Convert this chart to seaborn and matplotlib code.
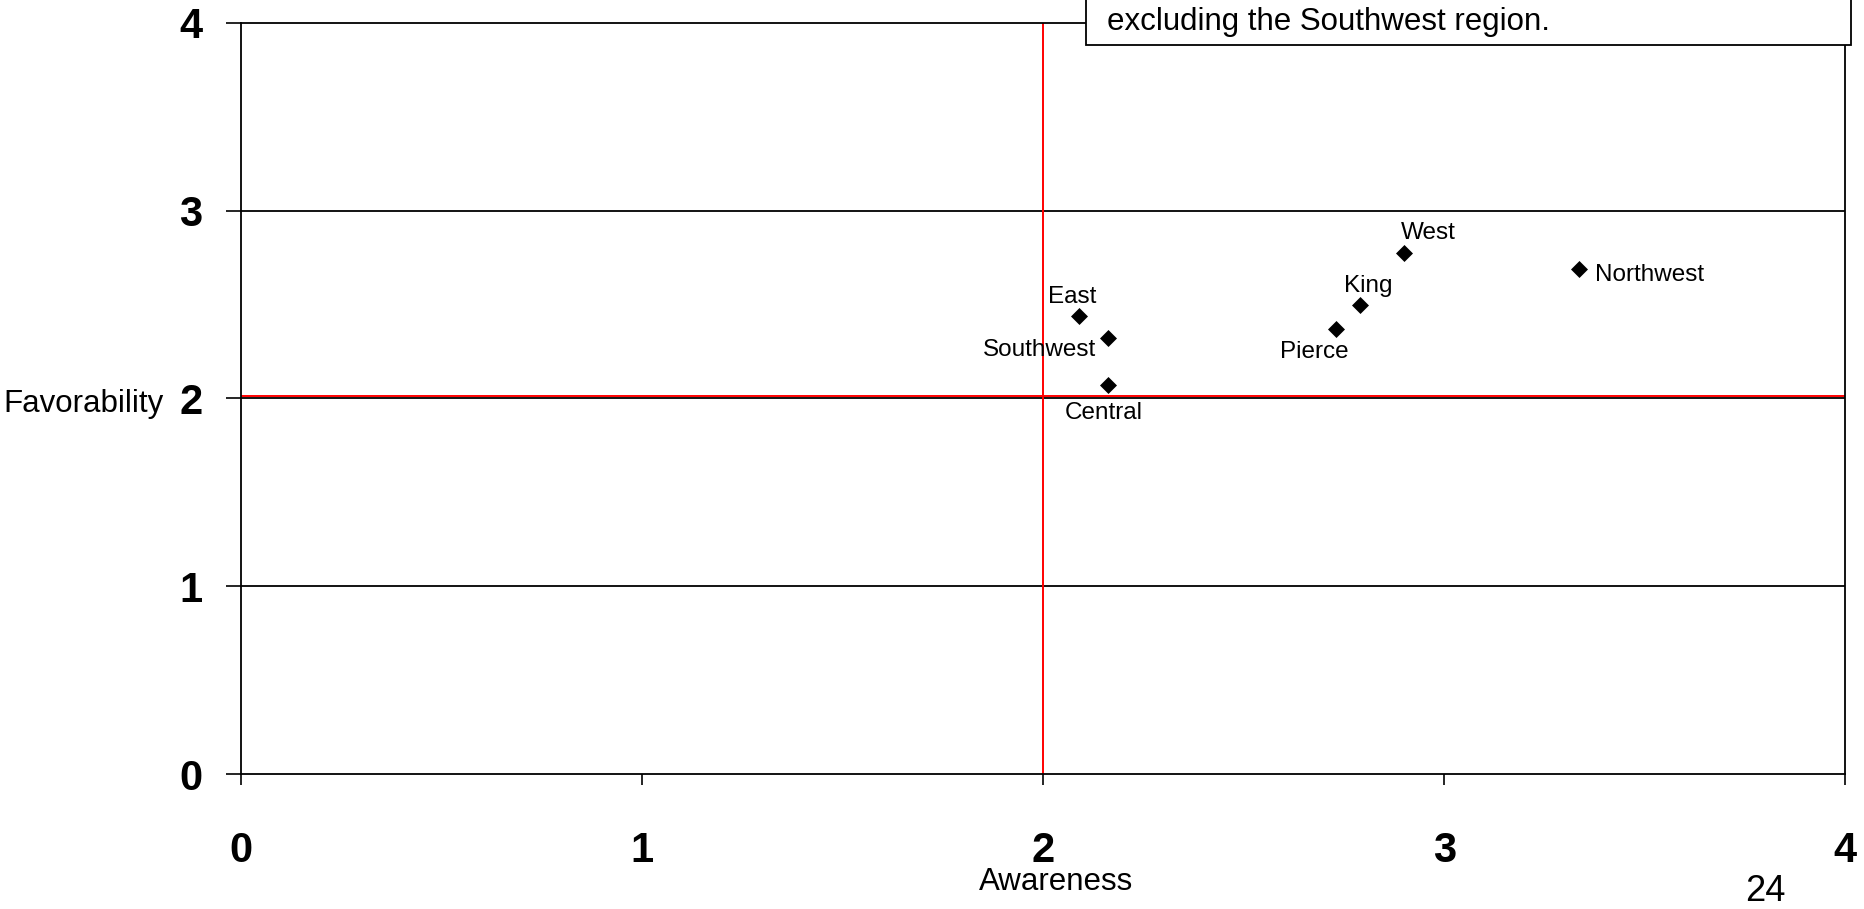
import numpy as np
import pandas as pd
import seaborn as sns
import matplotlib.pyplot as plt
from matplotlib.patches import Rectangle

# data
regions = ["East", "Southwest", "Central", "Pierce", "King", "West", "Northwest"]
awareness = [2.09, 2.16, 2.16, 2.73, 2.79, 2.90, 3.335]
favorability = [2.438, 2.319, 2.071, 2.367, 2.495, 2.775, 2.688]
# label offsets in points, with alignment
offsets = [(-5, 14, "center"), (-8, -8, "right"), (-3, -20, "center"), (-16, -16, "center"),
           (6, 14, "center"), (17, 14, "center"), (12, -4, "left")]
ref_x, ref_y = 2.0, 2.012
ticks = [0, 1, 2, 3, 4]

sns.set_theme(style="white")
plt.rcParams["font.family"] = ["Liberation Sans", "DejaVu Sans"]
plt.rcParams["text.color"] = "black"
plt.rcParams["xtick.color"] = "black"
plt.rcParams["ytick.color"] = "black"

df = pd.DataFrame({"Region": regions, "Awareness": awareness, "Favorability": favorability})

fig = plt.figure(figsize=(18.64, 9.09), dpi=100)
ax = fig.add_axes([0.1295, 0.1485, 0.8605, 0.8265])

for t in ticks[1:4]:
    ax.axhline(t, color="black", lw=1.3, zorder=1)
ax.plot([ref_x, ref_x], [0, 4], color="#ff0000", lw=1.4, zorder=2)
ax.plot([0, 4], [ref_y, ref_y], color="#ff0000", lw=1.4, zorder=2)

sns.scatterplot(data=df, x="Awareness", y="Favorability", marker="D", color="black",
                s=75, edgecolor="black", linewidth=0, ax=ax, zorder=3)

for name, x, y, (dx, dy, ha) in zip(regions, awareness, favorability, offsets):
    ax.annotate(name, (x, y), xytext=(dx, dy), textcoords="offset points",
                ha=ha, va="center", fontsize=17.5, color="black")

ax.set_xlim(0, 4)
ax.set_ylim(0, 4)
ax.set_xticks(ticks)
ax.set_yticks(ticks)
ax.set_xticklabels([str(t) for t in ticks], fontsize=30, fontweight="bold")
ax.set_yticklabels([str(t) for t in ticks], fontsize=30, fontweight="bold")
ax.tick_params(axis="x", direction="out", length=7.7, width=1.2, pad=33, bottom=True)
ax.tick_params(axis="y", direction="out", length=11, width=1.2, pad=17, left=True)
ax.set_xlabel("")
ax.set_ylabel("")
for sp in ax.spines.values():
    sp.set_color("black")
    sp.set_linewidth(1.3)

fig.text(0.002, 0.556, "Favorability", fontsize=22.5, va="center", ha="left")
fig.text(0.5665, 0.0297, "Awareness", fontsize=22.5, va="center", ha="center")
fig.text(0.947, 0.019, "24", fontsize=26, va="center", ha="center")

# note box cut off at the top of the page
fig.patches.append(Rectangle((0.5824, 0.9505), 0.4106, 0.1, transform=fig.transFigure,
                             facecolor="white", edgecolor="black", lw=1.3, zorder=5))
fig.text(0.594, 0.976, "excluding the Southwest region.", fontsize=22.5, va="center",
         ha="left", zorder=6)

fig.savefig("out.png", dpi=100, facecolor="white")
